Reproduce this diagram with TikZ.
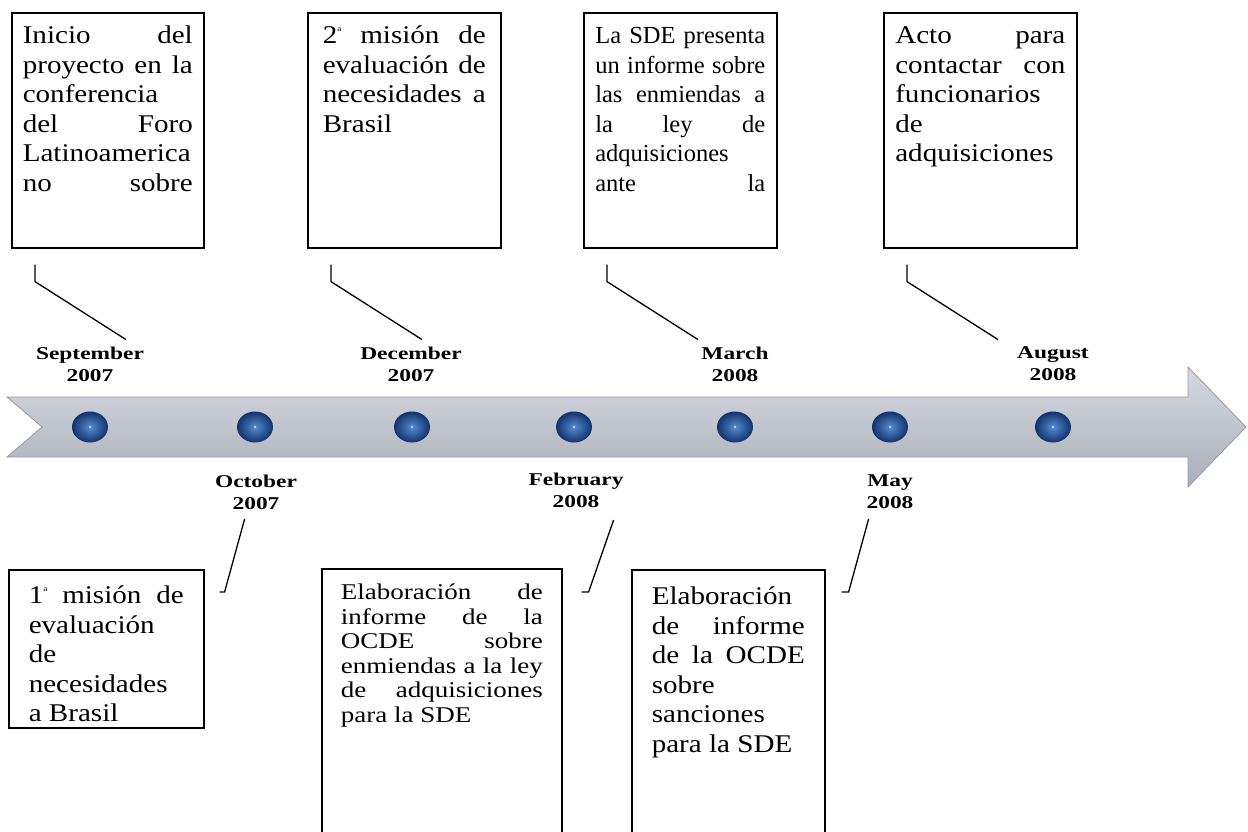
\documentclass[tikz,border=0pt]{standalone}
\usepackage{fontspec}
\setmainfont{Liberation Serif}
\newfontfamily\evfont[FakeStretch=1.14]{Liberation Serif}
\newfontfamily\evfontsm[FakeStretch=1.2]{Liberation Serif}
\newfontfamily\datefont[FakeStretch=1.3]{Liberation Serif}
\usetikzlibrary{shapes.geometric}
\definecolor{arrowtop}{RGB}{214,217,224}
\definecolor{arrowbot}{RGB}{170,174,184}
\definecolor{arrowedge}{RGB}{150,154,164}
\definecolor{dotin}{RGB}{85,140,210}
\definecolor{dotout}{RGB}{18,50,108}
\hbadness=10000
\tolerance=10000

\begin{document}
\begin{tikzpicture}[x=1pt,y=-1pt,evbox/.style={draw=black,line width=1.6pt,anchor=north west,align=justify,inner xsep=12pt,inner ysep=12pt,text height=19pt,font=\evfont\fontsize{25.5}{29.5}\selectfont},datelbl/.style={align=center,font=\datefont\bfseries\fontsize{18}{22}\selectfont},dot/.style={ellipse,minimum width=36pt,minimum height=31pt,inner sep=0pt,inner color=dotin,outer color=dotout,path picture={\fill[white!60!dotin] (path picture bounding box.center) circle (1.4pt);}},leader/.style={line width=1.3pt}]
\def\dotY{427}
\def\topY{364}
\def\botY{492}

\useasboundingbox (0,0) rectangle (1248,832);
\clip (0,0) rectangle (1248,832);

\shade[top color=arrowtop,bottom color=arrowbot,draw=arrowedge,line width=0.8pt] (7,397) -- (1188,397) -- (1188,367) -- (1246,427) -- (1188,487) -- (1188,457) -- (7,457) -- (42,427) -- cycle;

\node[dot] (d1) at (90,\dotY) {};
\node[dot] (d2) at (255,\dotY) {};
\node[dot] (d3) at (412,\dotY) {};
\node[dot] (d4) at (574,\dotY) {};
\node[dot] (d5) at (735,\dotY) {};
\node[dot] (d6) at (890,\dotY) {};
\node[dot] (d7) at (1053,\dotY) {};

\node[datelbl] (sep) at (90,\topY) {September\\2007};
\node[datelbl] (dec) at (411,\topY) {December\\2007};
\node[datelbl] (mar) at (735,\topY) {March\\2008};
\node[datelbl] (aug) at (1053,\topY) {August\\2008};
\node[datelbl] (oct) at (256,\botY) {October\\2007};
\node[datelbl] (feb) at (576,\botY-2) {February\\2008};
\node[datelbl] (may) at (890,\botY) {May\\2008};

\node[evbox,text width=170pt,inner xsep=11pt,text depth=192pt] (ev1) at (11,12) {Inicio del\linebreak proyecto en la\linebreak conferencia\linebreak del Foro\linebreak Latinoamerica\linebreak no sobre{\parfillskip=0pt\par}};
\node[evbox,text width=163pt,inner xsep=15pt,text depth=192pt] (ev2) at (307,12) {2\raisebox{12pt}{\fontsize{8}{8}\selectfont a} misión de\linebreak evaluación de\linebreak necesidades a\linebreak Brasil};
\node[evbox,text width=170pt,inner xsep=11.5pt,text depth=192pt,font=\fontsize{24.5}{29.5}\selectfont] (ev3) at (583,12) {La SDE presenta\linebreak un informe sobre\linebreak las enmiendas a\linebreak la ley de\linebreak adquisiciones\linebreak ante la{\parfillskip=0pt\par}};
\node[evbox,text width=170pt,inner xsep=11.5pt,text depth=192pt] (ev4) at (883,12) {Acto para\linebreak contactar con\linebreak funcionarios\linebreak de\linebreak adquisiciones};

\node[evbox,text width=155pt,inner xsep=20pt,text height=22pt,text depth=112pt] (evA) at (8,569) {1\raisebox{12pt}{\fontsize{8}{8}\selectfont a} misión de\linebreak evaluación\linebreak de\linebreak necesidades\linebreak a Brasil};
\node[evbox,text width=202pt,inner xsep=19pt,text depth=300pt,font=\evfontsm\fontsize{22.5}{24.5}\selectfont] (evB) at (321,568) {Elaboración de\linebreak informe de la\linebreak OCDE sobre\linebreak enmiendas a la ley\linebreak de adquisiciones\linebreak para la SDE};
\node[evbox,text width=153pt,inner xsep=20pt,text height=23pt,text depth=300pt] (evC) at (631,569) {Elaboración\linebreak de informe\linebreak de la OCDE\linebreak sobre\linebreak sanciones\linebreak para la SDE};

\draw[leader] ([shift={(24,16)}]ev1.south west) -- ++(0,17) -- ++(91,58);
\draw[leader] ([shift={(24,16)}]ev2.south west) -- ++(0,17) -- ++(91,58);
\draw[leader] ([shift={(24,16)}]ev3.south west) -- ++(0,17) -- ++(91,58);
\draw[leader] ([shift={(24,16)}]ev4.south west) -- ++(0,17) -- ++(91,58);

\draw[leader] ([shift={(15,23)}]evA.north east) -- ++(5,0) -- ++(20,-73);
\draw[leader] ([shift={(19,24)}]evB.north east) -- ++(7,0) -- ++(25,-72);
\draw[leader] ([shift={(16,23)}]evC.north east) -- ++(7,0) -- ++(20,-73);
\end{tikzpicture}
\end{document}
